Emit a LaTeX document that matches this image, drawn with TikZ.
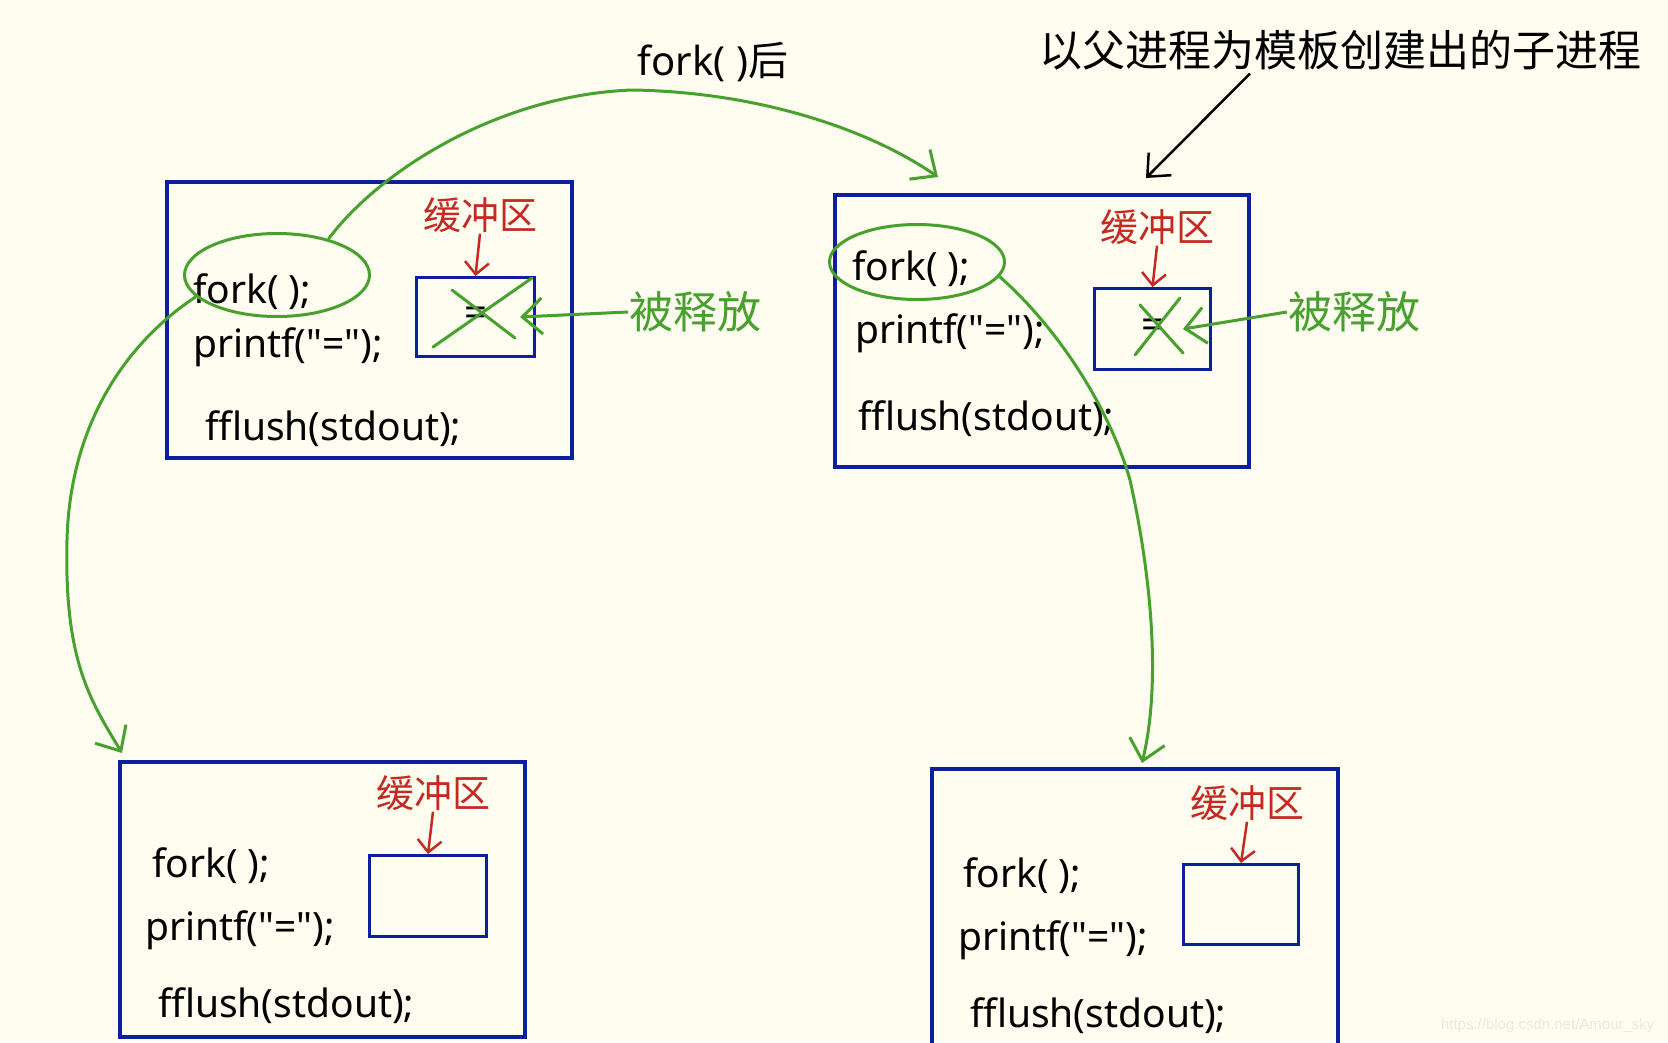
\documentclass[tikz,border=0pt]{standalone}
\usepackage{fontspec}
\newfontfamily\codefont{Noto Sans}[Ligatures=NoCommon]
\newfontfamily\cjk{Noto Sans CJK SC}
\newfontfamily\urlfont{Liberation Sans}
\usepackage{xcolor}
\definecolor{paper}{HTML}{FEFDF0}
\definecolor{boxblue}{HTML}{0D1F9B}
\definecolor{inkgreen}{HTML}{48A02E}
\definecolor{penred}{HTML}{C22A22}
\definecolor{faint}{HTML}{E9E9DC}
\usepackage{tikz}
\usetikzlibrary{arrows.meta,positioning,shapes.geometric}

\begin{document}
\begin{tikzpicture}[x=1pt,y=-1pt,
  proc/.style={draw=boxblue,line width=3.5pt,anchor=north west,inner sep=0pt},
  buf/.style={proc,line width=3pt},
  code/.style={anchor=base west,inner sep=0pt,font=\codefont\fontsize{39}{46}\selectfont},
  note/.style={text=penred,inner sep=1pt,font=\cjk\fontsize{38}{44}\selectfont},
  free/.style={text=inkgreen,inner sep=1pt,font=\cjk\fontsize{44}{50}\selectfont},
  ring/.style={ellipse,draw=inkgreen,line width=3pt,inner sep=0pt},
  flow/.style={-{Straight Barb[length=20pt,width=36pt]},draw=inkgreen,line width=3pt},
  cross/.style={draw=inkgreen,line width=3pt,line cap=round},
  tag/.style={-{Straight Barb[length=12pt,width=24pt]},draw=penred,line width=2.5pt},
  pen/.style={-{Straight Barb[length=18pt,width=32pt]},draw=black,line width=2.5pt}
]
\useasboundingbox (0,0) rectangle (1668,1042);
\fill[paper] (0,0) rectangle (1668,1042);
\clip (0,0) rectangle (1668,1042);

% parent process
\node[proc,minimum width=405pt,minimum height=276pt] (proc1) at (165,180) {};
\node[buf,minimum width=118pt,minimum height=79pt] (buf1) at (415,276) {};
\node[code] (fork1) at (193,303) {fork( );};
\node[code] (print1) at (193,357) {printf("=");};
\node[code] (flush1) at (205,440) {fflush(stdout);};
\node[note] (note1) at (480,215) {缓冲区};
\node[font=\codefont\fontsize{40}{48}\selectfont] (eq1) at (buf1.center) {=};
\node[ring,minimum width=185pt,minimum height=83pt] (ring1) at (277,275) {};
\node[free] (free1) at (695,312) {被释放};
\draw[tag] (note1.south) -- (buf1.north);
\draw[cross] (433,347) -- (532,278);
\draw[cross] (452,290) -- (515,338);
\draw[flow] (free1.west) -- ([xshift=-16pt]buf1.east);

% child process made from the parent
\node[proc,minimum width=414pt,minimum height=272pt] (proc2) at (833,193) {};
\node[buf,minimum width=116pt,minimum height=81pt] (buf2) at (1093,287) {};
\node[code] (fork2) at (852,280) {fork( );};
\node[code] (print2) at (855,343) {printf("=");};
\node[code] (flush2) at (858,430) {fflush(stdout);};
\node[note] (note2) at (1157,227) {缓冲区};
\node[font=\codefont\fontsize{40}{48}\selectfont] (eq2) at (buf2.center) {=};
\node[ring,minimum width=175pt,minimum height=75pt] (ring2) at (917,262) {};
\node[free] (free2) at (1354,312) {被释放};
\draw[tag] (note2.south) -- (buf2.north);
\draw[cross] (1135,355) -- (1180,298);
\draw[cross] (1140,305) -- (1183,353);
\draw[flow] (free2.west) -- ([xshift=-29pt]buf2.east);

% after flushing
\node[proc,minimum width=405pt,minimum height=275pt] (proc3) at (118,760) {};
\node[buf,minimum width=117pt,minimum height=81pt] (buf3) at (368,854) {};
\node[code] (fork3) at (152,877) {fork( );};
\node[code] (print3) at (145,940) {printf("=");};
\node[code] (flush3) at (158,1017) {fflush(stdout);};
\node[note] (note3) at (433,793) {缓冲区};
\draw[tag] (note3.south) -- (buf3.north);

\node[proc,minimum width=406pt,minimum height=300pt] (proc4) at (930,767) {};
\node[buf,minimum width=115pt,minimum height=80pt] (buf4) at (1182,863) {};
\node[code] (fork4) at (963,887) {fork( );};
\node[code] (print4) at (958,950) {printf("=");};
\node[code] (flush4) at (970,1027) {fflush(stdout);};
\node[note] (note4) at (1247,803) {缓冲区};
\draw[tag] (note4.south) -- (buf4.north);

% labels on top
\node[font=\codefont\fontsize{40}{48}\selectfont] (after) at (713,62) {fork( ){\cjk 后}};
\node[font=\cjk\fontsize{43}{50}\selectfont] (lead) at (1340,50) {以父进程为模板创建出的子进程};
\coordinate (aim2) at (1146,178);
\coordinate (land2) at (938,177);
\coordinate (land3) at (122,753);
\coordinate (land4) at (1142,763);
\draw[pen] ([xshift=-90pt]lead.south) -- (aim2);

% fork arrows
\draw[flow] (ring1.35) .. controls (380,170) and (500,95) .. (632,90)
  .. controls (760,92) and (870,130) .. (land2);
\draw[flow] (ring1.195) .. controls (130,340) and (70,420) .. (67,540)
  .. controls (64,660) and (90,700) .. (land3);
\draw[flow] (ring2.-10) .. controls (1060,330) and (1110,410) .. (1130,480)
  .. controls (1150,570) and (1162,680) .. (land4);

\node[anchor=base east,text=faint,font=\urlfont\fontsize{15}{18}\selectfont] (mark) at (1658,1029) {https://blog.csdn.net/Amour\_sky};
\end{tikzpicture}
\end{document}
